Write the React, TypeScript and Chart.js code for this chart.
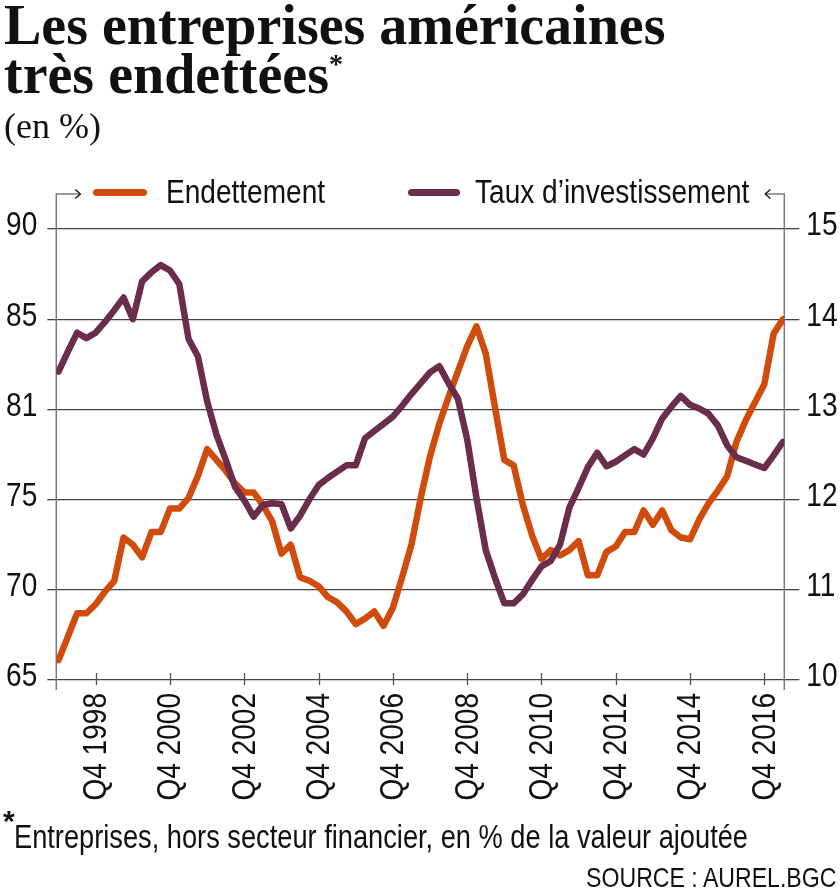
import React, { useEffect, useRef } from 'react';
import { Chart, registerables } from 'chart.js';

Chart.register(...registerables);

// Quarterly categories: Q4 1997 .. Q2 2017
const quarters: string[] = (() => {
  const out: string[] = [];
  let y = 1997;
  let q = 4;
  for (let i = 0; i < 79; i++) {
    out.push(`Q${q} ${y}`);
    q++;
    if (q > 4) { q = 1; y++; }
  }
  return out;
})();

const xTickLabels = ['Q4 1998', 'Q4 2000', 'Q4 2002', 'Q4 2004', 'Q4 2006', 'Q4 2008', 'Q4 2010', 'Q4 2012', 'Q4 2014', 'Q4 2016'];

const leftTickValues = [65, 70, 75, 80, 85, 90];
const leftTickLabels = ['65', '70', '75', '81', '85', '90'];
const rightTickValues = [10, 11, 12, 13, 14, 15];
const rightTickLabels = ['10', '11', '12', '13', '14', '15'];

// Endettement (left axis, %)
const endettement = [
  66.1, 67.4, 68.7, 68.7, 69.2, 69.9, 70.5, 72.9, 72.5, 71.8,
  73.2, 73.2, 74.5, 74.5, 75.1, 76.3, 77.8, 77.2, 76.6, 75.9,
  75.4, 75.4, 74.7, 73.8, 72.0, 72.5, 70.7, 70.5, 70.2, 69.6,
  69.3, 68.8, 68.1, 68.4, 68.8, 68.0, 69.0, 70.7, 72.5, 75.1,
  77.4, 79.2, 80.7, 82.1, 83.5, 84.6, 83.1, 80.1, 77.2, 76.9,
  74.7, 73.0, 71.7, 72.2, 71.9, 72.2, 72.7, 70.8, 70.8, 72.1,
  72.4, 73.2, 73.2, 74.4, 73.6, 74.4, 73.3, 72.9, 72.8, 73.9,
  74.8, 75.5, 76.3, 78.2, 79.4, 80.4, 81.4, 84.2, 85.0,
];

// Taux d'investissement (right axis, %)
const investissement = [
  13.42, 13.64, 13.85, 13.79, 13.85, 13.97, 14.10, 14.24, 14.00, 14.42,
  14.52, 14.60, 14.54, 14.39, 13.78, 13.59, 13.09, 12.72, 12.44, 12.14,
  11.99, 11.81, 11.94, 11.96, 11.95, 11.68, 11.82, 12.00, 12.16, 12.24,
  12.31, 12.38, 12.38, 12.68, 12.76, 12.84, 12.92, 13.04, 13.17, 13.29,
  13.41, 13.48, 13.29, 13.12, 12.67, 12.02, 11.44, 11.13, 10.85, 10.85,
  10.95, 11.11, 11.26, 11.32, 11.50, 11.91, 12.13, 12.36, 12.52, 12.37,
  12.42, 12.49, 12.56, 12.50, 12.68, 12.90, 13.03, 13.15, 13.05, 13.01,
  12.95, 12.82, 12.60, 12.47, 12.43, 12.39, 12.35, 12.49, 12.64,
];

const ORANGE = '#d14b0c';
const PURPLE = '#6a2d4a';
const SANS = '"Liberation Sans", Arial, sans-serif';
const SERIF = '"Liberation Serif", "DejaVu Serif", serif';
const SX = 0.825; // horizontal condensation to imitate a narrow grotesque
const TICK_FONT = `34px ${SANS}`;

function drawNarrow(ctx: any, text: string, x: number, y: number, align: string, rotate: boolean) {
  ctx.save();
  ctx.translate(x, y);
  if (rotate) ctx.rotate(-Math.PI / 2);
  ctx.scale(SX, 1);
  ctx.font = TICK_FONT;
  ctx.fillStyle = '#111';
  ctx.textAlign = align;
  ctx.textBaseline = 'middle';
  ctx.fillText(text, 0, 0);
  ctx.restore();
}

const axisDecor = {
  id: 'axisDecor',
  beforeDatasetsDraw(chart: any) {
    const { ctx, chartArea, scales } = chart;
    const { left, right, top, bottom } = chartArea;
    const yTop = top - 35;
    ctx.save();
    ctx.lineCap = 'butt';
    ctx.strokeStyle = '#7a7a7a';
    ctx.lineWidth = 1.5;
    ctx.beginPath();
    ctx.moveTo(left, bottom + 10);
    ctx.lineTo(left, yTop);
    ctx.lineTo(left + 24, yTop);
    ctx.moveTo(right, bottom + 10);
    ctx.lineTo(right, yTop);
    ctx.lineTo(right - 19, yTop);
    ctx.stroke();
    ctx.strokeStyle = '#222';
    ctx.beginPath();
    ctx.moveTo(left + 19, yTop - 4.5);
    ctx.lineTo(left + 24, yTop);
    ctx.lineTo(left + 19, yTop + 4.5);
    ctx.moveTo(right - 14, yTop - 4.5);
    ctx.lineTo(right - 19, yTop);
    ctx.lineTo(right - 14, yTop + 4.5);
    ctx.stroke();
    const xs = scales.x;
    ctx.strokeStyle = '#555';
    ctx.lineWidth = 1.3;
    ctx.beginPath();
    xs.ticks.forEach((t: any) => {
      const px = Math.round(xs.getPixelForValue(t.value)) + 0.5;
      ctx.moveTo(px, bottom - 7);
      ctx.lineTo(px, bottom + 5);
    });
    ctx.stroke();
    ctx.restore();
  },
  afterDraw(chart: any) {
    const { ctx, chartArea, scales } = chart;
    const ys = scales.y;
    ys.ticks.forEach((t: any) => {
      const i = leftTickValues.indexOf(t.value);
      drawNarrow(ctx, leftTickLabels[i], chartArea.left - 19, ys.getPixelForValue(t.value) - 3, 'right', false);
    });
    const yr = scales.y1;
    yr.ticks.forEach((t: any) => {
      const i = rightTickValues.indexOf(t.value);
      drawNarrow(ctx, rightTickLabels[i], chartArea.right + 22, yr.getPixelForValue(t.value) - 3, 'left', false);
    });
    const xs = scales.x;
    xs.ticks.forEach((t: any) => {
      drawNarrow(ctx, quarters[t.value], xs.getPixelForValue(t.value) + 1, chartArea.bottom + 13, 'right', true);
    });
  },
};

function ChartView() {
  const ref = useRef<HTMLCanvasElement | null>(null);
  useEffect(() => {
    if (!ref.current) return;
    const chart = new Chart(ref.current, {
      type: 'line',
      data: {
        datasets: [
          {
            label: 'Taux d’investissement',
            data: investissement.map((v, i) => ({ x: i, y: v })),
            yAxisID: 'y1',
            borderColor: PURPLE,
            borderWidth: 6.5,
            pointRadius: 0,
            tension: 0,
            borderJoinStyle: 'round',
            borderCapStyle: 'round',
            fill: false,
          },
          {
            label: 'Endettement',
            data: endettement.map((v, i) => ({ x: i, y: v })),
            yAxisID: 'y',
            borderColor: ORANGE,
            borderWidth: 6.5,
            pointRadius: 0,
            tension: 0,
            borderJoinStyle: 'round',
            borderCapStyle: 'round',
            fill: false,
          },
        ],
      },
      options: {
        animation: false,
        responsive: false,
        devicePixelRatio: 1,
        layout: { padding: { top: 229, left: 0, right: 0, bottom: 0 } },
        plugins: { legend: { display: false }, tooltip: { enabled: false } },
        scales: {
          x: {
            type: 'linear',
            bounds: 'data',
            min: -0.243,
            max: 78.15,
            afterBuildTicks: (scale: any) => {
              scale.ticks = xTickLabels.map((l) => ({ value: quarters.indexOf(l) }));
            },
            afterFit: (scale: any) => { scale.height = 212; },
            grid: { display: false, drawTicks: false },
            border: { display: false },
            ticks: { display: false, autoSkip: false },
          },
          y: {
            position: 'left',
            min: 65,
            max: 90,
            afterBuildTicks: (scale: any) => {
              scale.ticks = leftTickValues.map((v) => ({ value: v }));
            },
            afterFit: (scale: any) => { scale.width = 56.3; },
            grid: { color: '#444', lineWidth: 1.3, drawTicks: true, tickLength: 9 },
            border: { display: false },
            ticks: { display: false },
          },
          y1: {
            position: 'right',
            min: 10,
            max: 15,
            afterBuildTicks: (scale: any) => {
              scale.ticks = rightTickValues.map((v) => ({ value: v }));
            },
            afterFit: (scale: any) => { scale.width = 55.7; },
            grid: { drawOnChartArea: false, color: '#444', lineWidth: 1.3, drawTicks: true, tickLength: 15 },
            border: { display: false },
            ticks: { display: false },
          },
        },
      },
      plugins: [axisDecor],
    } as any);
    return () => chart.destroy();
  }, []);
  return (
    <canvas
      ref={ref}
      width={840}
      height={892}
      style={{ position: 'absolute', left: 0, top: 0, width: 840, height: 892 }}
    />
  );
}

const abs = (left: number, top: number, size: number, family: string, extra: any = {}) => ({
  position: 'absolute' as const,
  left,
  top,
  fontSize: size,
  lineHeight: `${size}px`,
  fontFamily: family,
  whiteSpace: 'nowrap' as const,
  color: '#111',
  ...extra,
});

const narrow = (origin = 'left top') => ({ transform: `scaleX(${SX})`, transformOrigin: origin });

export default function App() {
  return (
    <div style={{ position: 'absolute', left: 0, top: 0, width: 840, height: 892, background: '#fff', overflow: 'hidden' }}>
      <ChartView />
      <div style={abs(4, -3, 56, SERIF, { fontWeight: 700 })}>Les entreprises américaines</div>
      <div style={abs(4, 46, 56, SERIF, { fontWeight: 700 })}>
        très endettées<span style={{ fontSize: 28, position: 'relative', top: -20 }}>*</span>
      </div>
      <div style={abs(4, 108, 36, SERIF)}>(en %)</div>

      <div style={{ position: 'absolute', left: 93, top: 188.5, width: 54, height: 7, borderRadius: 3.5, background: ORANGE }} />
      <div style={abs(166, 174, 34, SANS, narrow())}>Endettement</div>
      <div style={{ position: 'absolute', left: 408, top: 188.5, width: 52, height: 7, borderRadius: 3.5, background: PURPLE }} />
      <div style={abs(475, 174, 34, SANS, narrow())}>Taux d’investissement</div>

      <div style={abs(3, 806, 30, SANS, { fontWeight: 700 })}>*</div>
      <div style={abs(14, 820, 33, SANS, narrow())}>Entreprises, hors secteur financier, en % de la valeur ajoutée</div>
      <div style={abs(0, 864, 28, SANS, { left: 'auto', right: 4, ...narrow('right top') })}>SOURCE : AUREL.BGC</div>
    </div>
  );
}
